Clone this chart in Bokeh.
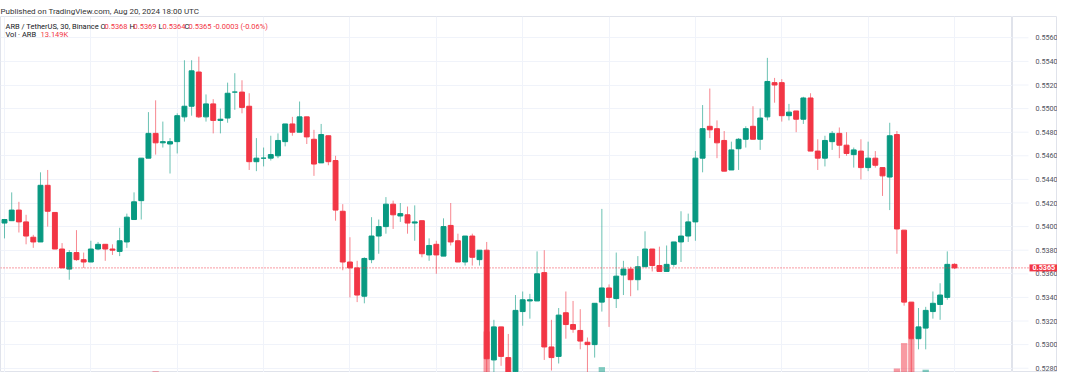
from bokeh.plotting import figure
from bokeh.layouts import row
from bokeh.models import (Range1d, FixedTicker, Grid, Span, Label, ColumnDataSource)
from bokeh.core.properties import value
from bokeh.embed import file_html
from bokeh.resources import INLINE

# ---- data: ARB / TetherUS, 30 min, Binance ----
opens = [0.5403, 0.5405, 0.5414, 0.5404, 0.5391, 0.5387, 0.5435, 0.5412, 0.5381, 0.5364, 0.5378, 0.5372,
         0.5370, 0.5381, 0.5385, 0.5381, 0.5379, 0.5387, 0.5406, 0.5422, 0.5458, 0.5479, 0.5471, 0.5470,
         0.5472, 0.5493, 0.5502, 0.5531, 0.5493, 0.5504, 0.5490, 0.5492, 0.5514, 0.5514, 0.5502, 0.5455,
         0.5458, 0.5458, 0.5460, 0.5472, 0.5487, 0.5480, 0.5493, 0.5474, 0.5454, 0.5477, 0.5456, 0.5413,
         0.5370, 0.5365, 0.5341, 0.5372, 0.5392, 0.5400, 0.5419, 0.5409, 0.5410, 0.5403, 0.5405, 0.5376,
         0.5385, 0.5375, 0.5401, 0.5388, 0.5370, 0.5392, 0.5372, 0.5380, 0.5287, 0.5315, 0.5289, 0.5277,
         0.5328, 0.5337, 0.5337, 0.5361, 0.5298, 0.5290, 0.5327, 0.5317, 0.5312, 0.5302, 0.5300, 0.5336,
         0.5348, 0.5339, 0.5359, 0.5364, 0.5355, 0.5366, 0.5381, 0.5367, 0.5362, 0.5368, 0.5387, 0.5392,
         0.5404, 0.5458, 0.5485, 0.5483, 0.5473, 0.5448, 0.5466, 0.5474, 0.5485, 0.5474, 0.5493, 0.5522,
         0.5522, 0.5494, 0.5498, 0.5491, 0.5509, 0.5464, 0.5458, 0.5472, 0.5479, 0.5469, 0.5461, 0.5464,
         0.5450, 0.5458, 0.5450, 0.5442, 0.5478, 0.5397, 0.5336, 0.5305, 0.5314, 0.5328, 0.5334, 0.5340,
         0.5368]
highs = [0.5406, 0.5429, 0.5421, 0.5410, 0.5393, 0.5446, 0.5448, 0.5412, 0.5386, 0.5380, 0.5397, 0.5378,
         0.5388, 0.5387, 0.5385, 0.5385, 0.5399, 0.5411, 0.5429, 0.5458, 0.5497, 0.5507, 0.5489, 0.5475,
         0.5496, 0.5541, 0.5541, 0.5544, 0.5512, 0.5508, 0.5500, 0.5522, 0.5530, 0.5524, 0.5513, 0.5475,
         0.5467, 0.5477, 0.5479, 0.5487, 0.5493, 0.5506, 0.5493, 0.5482, 0.5487, 0.5477, 0.5460, 0.5419,
         0.5391, 0.5371, 0.5374, 0.5408, 0.5406, 0.5425, 0.5422, 0.5420, 0.5417, 0.5418, 0.5405, 0.5390,
         0.5388, 0.5407, 0.5420, 0.5394, 0.5392, 0.5394, 0.5380, 0.5387, 0.5321, 0.5315, 0.5309, 0.5342,
         0.5345, 0.5343, 0.5379, 0.5380, 0.5321, 0.5331, 0.5345, 0.5337, 0.5330, 0.5306, 0.5335, 0.5415,
         0.5351, 0.5378, 0.5371, 0.5366, 0.5375, 0.5396, 0.5381, 0.5383, 0.5384, 0.5387, 0.5413, 0.5411,
         0.5464, 0.5503, 0.5517, 0.5490, 0.5481, 0.5472, 0.5475, 0.5485, 0.5502, 0.5500, 0.5543, 0.5526,
         0.5525, 0.5504, 0.5498, 0.5510, 0.5513, 0.5474, 0.5477, 0.5481, 0.5484, 0.5480, 0.5467, 0.5474,
         0.5472, 0.5464, 0.5450, 0.5488, 0.5481, 0.5397, 0.5336, 0.5331, 0.5332, 0.5345, 0.5352, 0.5379,
         0.5369]
lows = [0.5390, 0.5405, 0.5395, 0.5385, 0.5382, 0.5387, 0.5400, 0.5381, 0.5365, 0.5355, 0.5371, 0.5365,
        0.5370, 0.5380, 0.5371, 0.5376, 0.5375, 0.5382, 0.5406, 0.5406, 0.5458, 0.5461, 0.5467, 0.5445,
        0.5462, 0.5489, 0.5494, 0.5492, 0.5489, 0.5479, 0.5479, 0.5488, 0.5499, 0.5496, 0.5448, 0.5447,
        0.5451, 0.5456, 0.5458, 0.5468, 0.5477, 0.5480, 0.5470, 0.5443, 0.5454, 0.5452, 0.5405, 0.5363,
        0.5340, 0.5336, 0.5335, 0.5369, 0.5377, 0.5394, 0.5398, 0.5404, 0.5394, 0.5388, 0.5374, 0.5371,
        0.5360, 0.5375, 0.5384, 0.5370, 0.5367, 0.5367, 0.5367, 0.5276, 0.5271, 0.5282, 0.5275, 0.5275,
        0.5316, 0.5322, 0.5337, 0.5287, 0.5278, 0.5284, 0.5305, 0.5310, 0.5296, 0.5272, 0.5289, 0.5328,
        0.5315, 0.5331, 0.5342, 0.5341, 0.5346, 0.5366, 0.5362, 0.5362, 0.5362, 0.5366, 0.5370, 0.5387,
        0.5388, 0.5446, 0.5475, 0.5458, 0.5447, 0.5448, 0.5448, 0.5467, 0.5474, 0.5465, 0.5490, 0.5505,
        0.5489, 0.5490, 0.5480, 0.5487, 0.5464, 0.5448, 0.5451, 0.5465, 0.5458, 0.5460, 0.5450, 0.5440,
        0.5447, 0.5450, 0.5426, 0.5414, 0.5377, 0.5333, 0.5270, 0.5296, 0.5296, 0.5322, 0.5321, 0.5338,
        0.5364]
closes = [0.5406, 0.5414, 0.5404, 0.5392, 0.5387, 0.5435, 0.5413, 0.5381, 0.5365, 0.5378, 0.5372, 0.5370,
          0.5381, 0.5385, 0.5381, 0.5380, 0.5388, 0.5408, 0.5421, 0.5458, 0.5479, 0.5471, 0.5472, 0.5472,
          0.5494, 0.5502, 0.5532, 0.5493, 0.5504, 0.5490, 0.5491, 0.5513, 0.5514, 0.5501, 0.5455, 0.5458,
          0.5458, 0.5461, 0.5473, 0.5487, 0.5480, 0.5493, 0.5476, 0.5453, 0.5478, 0.5455, 0.5414, 0.5370,
          0.5365, 0.5342, 0.5373, 0.5392, 0.5400, 0.5419, 0.5410, 0.5411, 0.5403, 0.5404, 0.5377, 0.5384,
          0.5376, 0.5400, 0.5387, 0.5370, 0.5392, 0.5374, 0.5380, 0.5288, 0.5315, 0.5290, 0.5276, 0.5329,
          0.5338, 0.5338, 0.5360, 0.5298, 0.5289, 0.5325, 0.5317, 0.5313, 0.5303, 0.5300, 0.5335, 0.5348,
          0.5340, 0.5358, 0.5364, 0.5355, 0.5366, 0.5381, 0.5367, 0.5362, 0.5368, 0.5387, 0.5392, 0.5404,
          0.5458, 0.5483, 0.5482, 0.5471, 0.5447, 0.5465, 0.5474, 0.5483, 0.5474, 0.5492, 0.5523, 0.5520,
          0.5494, 0.5497, 0.5491, 0.5509, 0.5464, 0.5458, 0.5473, 0.5479, 0.5469, 0.5462, 0.5465, 0.5450,
          0.5458, 0.5452, 0.5443, 0.5477, 0.5398, 0.5336, 0.5305, 0.5315, 0.5329, 0.5335, 0.5342, 0.5368,
          0.5365]
# volume in thousands of ARB
volumes = [95, 120, 110, 105, 70, 230, 190, 150, 140, 160, 130, 80,
           110, 60, 70, 55, 120, 140, 150, 240, 210, 346, 130, 150,
           160, 245, 230, 250, 150, 140, 100, 170, 130, 120, 240, 110,
           90, 95, 120, 140, 110, 130, 150, 200, 180, 160, 230, 250,
           287, 240, 230, 190, 120, 150, 110, 90, 100, 110, 180, 140,
           130, 160, 170, 150, 160, 140, 110, 545, 286, 200, 170, 250,
           170, 100, 190, 240, 275, 210, 180, 120, 150, 160, 220, 367,
           140, 150, 120, 110, 130, 160, 120, 100, 90, 140, 150, 130,
           240, 312, 303, 180, 190, 150, 120, 100, 110, 140, 250, 130,
           190, 110, 120, 160, 267, 303, 170, 110, 130, 120, 100, 150,
           120, 110, 140, 333, 360, 487, 508, 290, 354, 180, 160, 200,
           13.149]
price_ticks = [0.5280, 0.5300, 0.5320, 0.5340, 0.5360, 0.5380, 0.5400, 0.5420,
               0.5440, 0.5460, 0.5480, 0.5500, 0.5520, 0.5540, 0.5560]
time_grid = [0, 12, 24, 36, 48, 60, 72, 84, 96, 108, 120, 132]
last_price = 0.5365
title_text = "Published on TradingView.com, Aug 20, 2024 18:00 UTC"
legend_line1 = [("ARB / TetherUS, 30, Binance", "dark"), ("O", "dark"), ("0.5368", "red"),
                ("H", "dark"), ("0.5369", "red"), ("L", "dark"), ("0.5364", "red"),
                ("C", "dark"), ("0.5365", "red"), ("-0.0003 (-0.06%)", "red")]
legend_line2 = [("Vol · ARB", "dark"), ("13.149K", "red")]

# ---- styling ----
GREEN = "#089981"
RED = "#F23645"
DARK = "#131722"
GRID = "#f0f3fa"
BORDER = "#e0e3eb"
FONT = "Roboto"
W, H = 1057, 372
MAIN_W = 1012
SCALE_W = W - MAIN_W
TOP = 16
Y_RANGE = Range1d(0.527636, 0.557805)

n = len(opens)
xs = list(range(n))
col = [GREEN if c >= o else RED for o, c in zip(opens, closes)]
src = ColumnDataSource(dict(
    x=xs, open=opens, high=highs, low=lows, close=closes, vol=volumes, color=col,
    top=[max(o, c) for o, c in zip(opens, closes)],
    bottom=[min(o, c) for o, c in zip(opens, closes)],
))

# ---------------- main pane ----------------
p = figure(width=MAIN_W, height=H, output_backend="svg", toolbar_location=None,
           x_range=Range1d(-0.556, 140.06), y_range=Y_RANGE,
           x_axis_location=None, y_axis_location=None,
           min_border_left=0, min_border_right=0, min_border_top=TOP,
           min_border_bottom=0, background_fill_color="white",
           border_fill_color="white")
p.outline_line_color = BORDER
p.grid.grid_line_color = None

p.title.text = title_text
p.title.align = "left"
p.title.text_font = FONT
p.title.text_font_size = "8px"
p.title.text_font_style = "normal"
p.title.text_color = "#333333"
p.title.standoff = 2
p.title.offset = 0

p.add_layout(Grid(dimension=0, ticker=FixedTicker(ticks=time_grid),
                  grid_line_color=GRID, grid_line_width=1))
p.add_layout(Grid(dimension=1, ticker=FixedTicker(ticks=price_ticks),
                  grid_line_color=GRID, grid_line_width=1))

# volume overlay
p.extra_y_ranges = {"vol": Range1d(340, 2120)}
p.vbar(x="x", width=0.88, top="vol", bottom=0, source=src, y_range_name="vol",
       fill_color="color", fill_alpha=0.5, line_color=None)

# last price dotted line
p.add_layout(Span(location=last_price, dimension="width", line_color=RED,
                  line_dash="1 2", line_width=1))

# candles
p.segment(x0="x", y0="high", x1="x", y1="low", source=src, line_color="color",
          line_alpha=0.6, line_width=1)
p.vbar(x="x", width=0.68, top="top", bottom="bottom", source=src,
       fill_color="color", line_color="color", line_width=1)

# legend texts
line1_x = [5, 100, 104, 129, 133, 158, 162, 184, 188, 213]
line2_x = [5, 40]
for (txt, kind), lx in zip(legend_line1, line1_x):
    p.add_layout(Label(x=lx, y=H - 25.7, x_units="screen", y_units="screen",
                       text=txt, text_font=FONT, text_font_size="7.5px",
                       text_color=DARK if kind == "dark" else RED,
                       text_baseline="middle"))
for (txt, kind), lx in zip(legend_line2, line2_x):
    p.add_layout(Label(x=lx, y=H - 34, x_units="screen", y_units="screen",
                       text=txt, text_font=FONT, text_font_size="7.5px",
                       text_color=DARK if kind == "dark" else RED,
                       text_baseline="middle"))

# ---------------- price scale (shares the price range) ----------------
s = figure(width=SCALE_W, height=H, output_backend="svg", toolbar_location=None,
           x_range=Range1d(0, SCALE_W), y_range=Y_RANGE,
           x_axis_location=None, y_axis_location=None,
           min_border_left=0, min_border_right=0, min_border_top=TOP,
           min_border_bottom=0, background_fill_color="white",
           border_fill_color="white")
s.outline_line_color = BORDER
s.grid.grid_line_color = None

tick_src = ColumnDataSource(dict(
    y=price_ticks, label=[f"{t:.4f}" for t in price_ticks],
    x0=[0] * len(price_ticks), x1=[16] * len(price_ticks), xt=[23] * len(price_ticks)))
s.segment(x0="x0", y0="y", x1="x1", y1="y", source=tick_src, line_color=GRID, line_width=1)
s.text(x="xt", y="y", text="label", source=tick_src, text_font=value(FONT),
       text_font_size=value("7.2px"), text_color="#50535e", text_baseline="middle")

s.segment(x0=[0], y0=[last_price], x1=[17], y1=[last_price], line_color=RED,
          line_dash="1 2", line_width=1)
s.add_layout(Label(x=17, y=last_price, x_units="data", y_units="data",
                   text=f"{last_price:.4f}", text_font=FONT, text_font_size="7.2px",
                   text_color="white", text_font_style="bold", text_baseline="middle",
                   background_fill_color=RED, background_fill_alpha=1.0,
                   padding=dict(left=3, right=3, top=1, bottom=1)))

layout = row(p, s, spacing=0)
open("out.html", "w").write(file_html(layout, INLINE))
